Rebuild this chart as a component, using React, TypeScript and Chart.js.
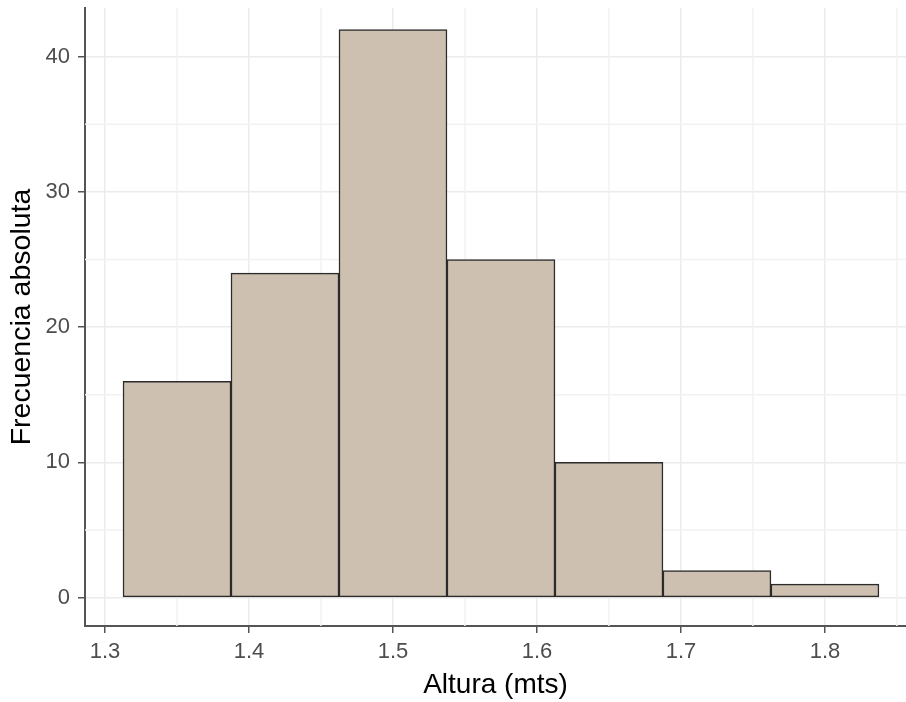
import React, { useEffect, useRef } from "react";
import { Chart, registerables } from "chart.js";

Chart.register(...registerables);

// Histogram data: bin centers (bin width 0.075) and absolute frequencies
const binCenters = [1.35, 1.425, 1.5, 1.575, 1.65, 1.725, 1.8];
const counts = [16, 24, 42, 25, 10, 2, 1];

const xMajorTicks = [1.3, 1.4, 1.5, 1.6, 1.7, 1.8];
const xMinorTicks = [1.35, 1.45, 1.55, 1.65, 1.75, 1.85];
const yMajorTicks = [0, 10, 20, 30, 40];
const yMinorTicks = [5, 15, 25, 35];

const xTitle = "Altura (mts)";
const yTitle = "Frecuencia absoluta";

const FONT = "'Liberation Sans', Arial, Helvetica, sans-serif";
const GRID = "#ebebeb";
const AXIS = "#555555";
const TICKTEXT = "#4d4d4d";

const minorGridPlugin = {
  id: "minorGrid",
  beforeDatasetsDraw(chart: any) {
    const { ctx, chartArea, scales } = chart;
    ctx.save();
    ctx.beginPath();
    ctx.rect(chartArea.left, chartArea.top, chartArea.right - chartArea.left, chartArea.bottom - chartArea.top);
    ctx.clip();
    ctx.strokeStyle = "#f2f2f2";
    ctx.lineWidth = 1.5;
    xMinorTicks.forEach((v) => {
      const px = scales.x.getPixelForValue(v);
      ctx.beginPath();
      ctx.moveTo(px, chartArea.top);
      ctx.lineTo(px, chartArea.bottom);
      ctx.stroke();
    });
    yMinorTicks.forEach((v) => {
      const py = scales.y.getPixelForValue(v);
      ctx.beginPath();
      ctx.moveTo(chartArea.left, py);
      ctx.lineTo(chartArea.right, py);
      ctx.stroke();
    });
    ctx.restore();
  },
};

export default function App() {
  const ref = useRef<HTMLCanvasElement | null>(null);

  useEffect(() => {
    if (!ref.current) return;
    const chart = new Chart(ref.current, {
      type: "bar",
      data: {
        datasets: [
          {
            data: binCenters.map((c, i) => ({ x: c, y: counts[i] })),
            backgroundColor: "#CDC0B0",
            borderColor: "#2b2b2b",
            borderWidth: 1.5,
            borderSkipped: false,
            barPercentage: 1,
            categoryPercentage: 1,
          },
        ],
      },
      options: {
        animation: false,
        responsive: false,
        devicePixelRatio: 1,
        layout: { padding: { top: 8, right: 0, bottom: 0, left: 0 } },
        plugins: {
          legend: { display: false },
          tooltip: { enabled: false },
        },
        scales: {
          x: {
            type: "linear",
            offset: false,
            min: 1.2861,
            max: 1.8563,
            afterBuildTicks: (scale: any) => {
              scale.ticks = xMajorTicks.map((v) => ({ value: v }));
            },
            afterFit: (scale: any) => {
              scale.height = 76;
              scale.paddingLeft = 0;
              scale.paddingRight = 0;
            },
            grid: {
              offset: false,
              color: GRID,
              lineWidth: 1.5,
              tickColor: AXIS,
              tickLength: 7,
            },
            border: { display: true, color: AXIS, width: 2 },
            ticks: {
              color: TICKTEXT,
              font: { family: FONT, size: 22 },
              padding: 6,
              maxRotation: 0,
              callback: (v: any) => String(v),
            },
            title: {
              display: true,
              text: xTitle,
              color: "#000000",
              font: { family: FONT, size: 28 },
              padding: { top: 0, bottom: 0 },
            },
          },
          y: {
            type: "linear",
            min: -2.1,
            max: 43.6,
            afterBuildTicks: (scale: any) => {
              scale.ticks = yMajorTicks.map((v) => ({ value: v }));
            },
            afterFit: (scale: any) => {
              scale.width = 85;
              scale.paddingTop = 0;
              scale.paddingBottom = 0;
            },
            grid: {
              color: GRID,
              lineWidth: 1.5,
              tickColor: AXIS,
              tickLength: 7,
            },
            border: { display: true, color: AXIS, width: 2 },
            ticks: {
              color: TICKTEXT,
              font: { family: FONT, size: 22 },
              padding: 8,
            },
            title: {
              display: true,
              text: yTitle,
              color: "#000000",
              font: { family: FONT, size: 28.5 },
              padding: { top: 5, bottom: 0 },
            },
          },
        },
      },
      plugins: [minorGridPlugin],
    });
    return () => chart.destroy();
  }, []);

  return (
    <div style={{ position: "absolute", left: 0, top: 0, width: 906, height: 702, background: "#ffffff" }}>
      <canvas ref={ref} width={906} height={702} style={{ display: "block" }} />
    </div>
  );
}
